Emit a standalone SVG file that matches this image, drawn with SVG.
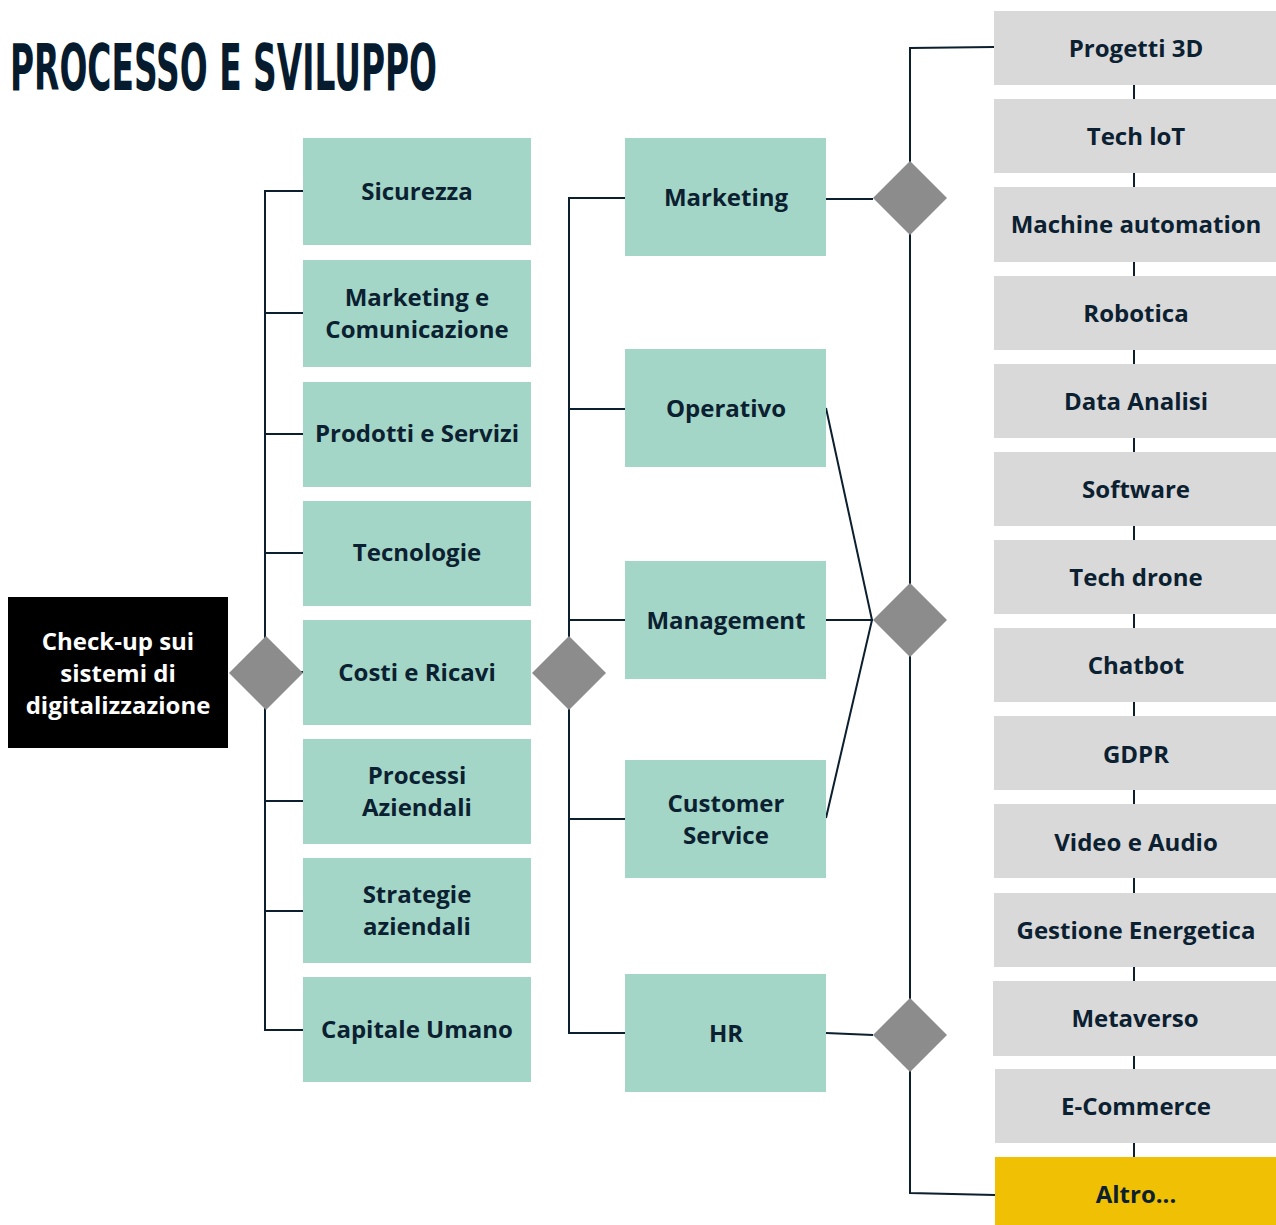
<svg xmlns="http://www.w3.org/2000/svg" width="1276" height="1225" viewBox="0 0 1276 1225">
<style>
.g{fill:#a3d6c7}
.r{fill:#d9d9d9}
.d{fill:#8c8c8c}
.t{font-family:"Open Sans","DejaVu Sans",sans-serif;font-weight:700;font-size:24px;fill:#0b2030;text-anchor:middle}
.w{fill:#ffffff}
.c{stroke:#0b1f2e;stroke-width:2;fill:none}
</style>
<rect width="1276" height="1225" fill="#ffffff"/>
<text x="10" y="90" font-family="DejaVu Sans,sans-serif" font-weight="700" font-size="64" fill="#061c2e" textLength="427" lengthAdjust="spacingAndGlyphs">PROCESSO E SVILUPPO</text>

<g id="connectors" class="c">
  <path d="M303 191H265V1030H303"/>
  <path d="M265 313H303M265 434H303M265 553H303M265 672H303M265 801H303M265 911H303"/>
  <path d="M625 198H569V1033H625"/>
  <path d="M569 409H625M569 620H625M569 819H625"/>
  <path d="M826 199H873"/>
  <path d="M826 408L872 620L826 818M826 620H873"/>
  <path d="M826 1033L873 1035"/>
  <path d="M994 47L910 48V1193L995 1195"/>
  <path d="M1134 85V99M1134 173V187M1134 262V276M1134 350V364M1134 438V452M1134 526V540M1134 614V628M1134 702V716M1134 790V804M1134 878V893M1134 967V981M1134 1056V1069M1134 1143V1157"/>
</g>

<g id="root"><rect x="8" y="597" width="220" height="151" fill="#000000"/>
<text class="t w"><tspan x="118" y="650">Check-up sui</tspan><tspan x="118" y="682">sistemi di</tspan><tspan x="118" y="714">digitalizzazione</tspan></text></g>

<g id="dia1"><path class="d" d="M266 636L303 673L266 710L229 673Z"/></g>
<g id="dia2"><path class="d" d="M569 636L606 673L569 710L532 673Z"/></g>
<g id="dia3"><path class="d" d="M910 161L947 198L910 235L873 198Z"/></g>
<g id="dia4"><path class="d" d="M910 583L947 620L910 657L873 620Z"/></g>
<g id="dia5"><path class="d" d="M910 998L947 1035L910 1072L873 1035Z"/></g>

<g id="sicurezza"><rect class="g" x="303" y="138" width="228" height="107"/><text class="t" x="417" y="200">Sicurezza</text></g>
<g id="marketing-comunicazione"><rect class="g" x="303" y="260" width="228" height="107"/><text class="t"><tspan x="417" y="306">Marketing e</tspan><tspan x="417" y="338">Comunicazione</tspan></text></g>
<g id="prodotti"><rect class="g" x="303" y="382" width="228" height="105"/><text class="t" x="417" y="442">Prodotti e Servizi</text></g>
<g id="tecnologie"><rect class="g" x="303" y="501" width="228" height="105"/><text class="t" x="417" y="561">Tecnologie</text></g>
<g id="costi"><rect class="g" x="303" y="620" width="228" height="105"/><text class="t" x="417" y="681">Costi e Ricavi</text></g>
<g id="processi"><rect class="g" x="303" y="739" width="228" height="105"/><text class="t"><tspan x="417" y="784">Processi</tspan><tspan x="417" y="816">Aziendali</tspan></text></g>
<g id="strategie"><rect class="g" x="303" y="858" width="228" height="105"/><text class="t"><tspan x="417" y="903">Strategie</tspan><tspan x="417" y="935">aziendali</tspan></text></g>
<g id="capitale"><rect class="g" x="303" y="977" width="228" height="105"/><text class="t" x="417" y="1038">Capitale Umano</text></g>

<g id="marketing"><rect class="g" x="625" y="138" width="201" height="118"/><text class="t" x="726" y="206">Marketing</text></g>
<g id="operativo"><rect class="g" x="625" y="349" width="201" height="118"/><text class="t" x="726" y="417">Operativo</text></g>
<g id="management"><rect class="g" x="625" y="561" width="201" height="118"/><text class="t" x="726" y="629">Management</text></g>
<g id="customer"><rect class="g" x="625" y="760" width="201" height="118"/><text class="t"><tspan x="726" y="812">Customer</tspan><tspan x="726" y="844">Service</tspan></text></g>
<g id="hr"><rect class="g" x="625" y="974" width="201" height="118"/><text class="t" x="726" y="1042">HR</text></g>

<g id="progetti3d"><rect class="r" x="994" y="11" width="282" height="74"/><text class="t" x="1136" y="57">Progetti 3D</text></g>
<g id="techiot"><rect class="r" x="994" y="99" width="282" height="74"/><text class="t" x="1136" y="145">Tech loT</text></g>
<g id="machine"><rect class="r" x="994" y="187" width="282" height="75"/><text class="t" x="1136" y="233">Machine automation</text></g>
<g id="robotica"><rect class="r" x="994" y="276" width="282" height="74"/><text class="t" x="1136" y="322">Robotica</text></g>
<g id="data"><rect class="r" x="994" y="364" width="282" height="74"/><text class="t" x="1136" y="410">Data Analisi</text></g>
<g id="software"><rect class="r" x="994" y="452" width="282" height="74"/><text class="t" x="1136" y="498">Software</text></g>
<g id="drone"><rect class="r" x="994" y="540" width="282" height="74"/><text class="t" x="1136" y="586">Tech drone</text></g>
<g id="chatbot"><rect class="r" x="994" y="628" width="282" height="74"/><text class="t" x="1136" y="674">Chatbot</text></g>
<g id="gdpr"><rect class="r" x="994" y="716" width="282" height="74"/><text class="t" x="1136" y="763">GDPR</text></g>
<g id="video"><rect class="r" x="994" y="804" width="282" height="74"/><text class="t" x="1136" y="851">Video e Audio</text></g>
<g id="energia"><rect class="r" x="994" y="893" width="282" height="74"/><text class="t" x="1136" y="939">Gestione Energetica</text></g>
<g id="metaverso"><rect class="r" x="993" y="981" width="283" height="75"/><text class="t" x="1135" y="1027">Metaverso</text></g>
<g id="ecommerce"><rect class="r" x="995" y="1069" width="281" height="74"/><text class="t" x="1136" y="1115">E-Commerce</text></g>
<g id="altro"><rect x="995" y="1157" width="281" height="68" fill="#efc003"/><text class="t" x="1136" y="1203">Altro...</text></g>
</svg>
